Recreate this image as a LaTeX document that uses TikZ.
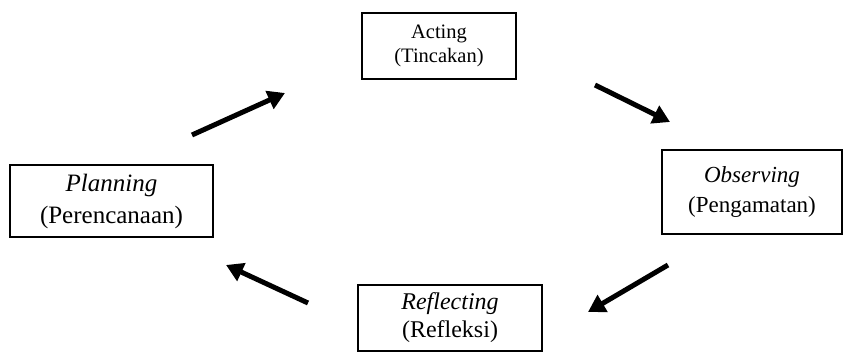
\documentclass[tikz,border=0pt]{standalone}
\usepackage{fontspec}
\setmainfont{Liberation Serif}
\usetikzlibrary{arrows.meta}
\begin{document}
\begin{tikzpicture}[x=1pt, y=-1pt,
  stage/.style={draw, line width=2.8pt, align=center, inner sep=0pt, font=\fontsize{23}{30}\selectfont},
  cyc/.style={line width=5pt, -{Triangle[length=17pt, width=19pt]}}]
\useasboundingbox (0,0) rectangle (844,352);
\node[stage, minimum width=154pt, minimum height=66pt, font=\fontsize{20.5}{24}\selectfont] (act) at (439,46) {Acting\\(Tincakan)};
\node[stage, minimum width=180pt, minimum height=84pt] (obs) at (752,192) {\textit{Observing}\\(Pengamatan)};
\node[stage, minimum width=184pt, minimum height=66pt, font=\fontsize{24}{28}\selectfont] (ref) at (450,318) {\textit{Reflecting}\\(Refleksi)};
\node[stage, minimum width=203pt, minimum height=72pt, font=\fontsize{25}{32}\selectfont] (plan) at (111.5,201) {\textit{Planning}\\(Perencanaan)};
% free ends of the cycle arrows
\coordinate (pa1) at (192,135); \coordinate (pa2) at (285,93);
\coordinate (ao1) at (595,85);  \coordinate (ao2) at (670,122);
\coordinate (or1) at (668,265); \coordinate (or2) at (588,312);
\coordinate (rp1) at (308,303); \coordinate (rp2) at (226,265);
\foreach \s/\e in {pa1/pa2, ao1/ao2, or1/or2, rp1/rp2}
\draw[cyc] (\s) -- (\e);
\end{tikzpicture}
\end{document}
